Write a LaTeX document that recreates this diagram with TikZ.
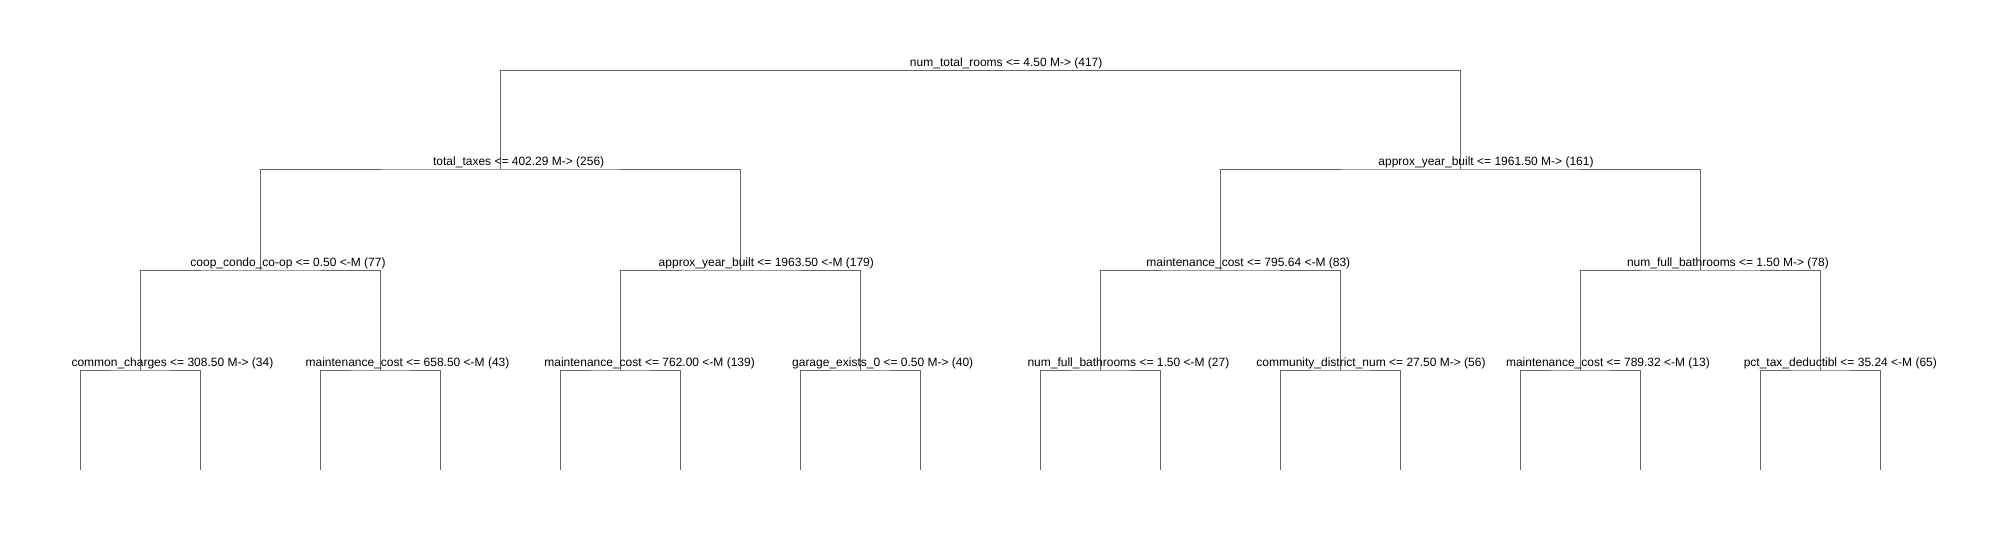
\documentclass[tikz,border=0pt]{standalone}
\usepackage{fontspec}
\setmainfont{Liberation Sans}

\begin{document}
\begin{tikzpicture}[x=0.5pt, y=-0.5pt,
  branch/.style={draw=black!60, line width=0.5pt},
  split label/.style={anchor=base, inner sep=0pt, font=\fontsize{6}{7}\selectfont}]

\useasboundingbox (0,0) rectangle (2006,540);

% Split points (numbered as in rpart) and the leaves
\foreach \i/\px/\py in {1/980.5/70.5, 2/500.5/169, 3/1460.5/169,
  4/260.5/270, 5/740.5/270, 6/1220.5/270, 7/1700.5/270,
  8/140.5/370, 9/380.5/370, 10/620.5/370, 11/860.5/370,
  12/1100.5/370, 13/1340.5/370, 14/1580.5/370, 15/1820.5/370} {
  \coordinate (n\i) at (\px,\py);
}
\foreach \i in {16,...,31} {
  \coordinate (n\i) at ({80.5+120*(\i-16)},470);
}

% Branches from each split down to its two children
\foreach \p in {1,...,15} {
  \pgfmathtruncatemacro{\lc}{2*\p}
  \pgfmathtruncatemacro{\rc}{2*\p+1}
  \draw [branch] (n\lc) |- (n\p) -| (n\rc);
}

% Split labels
\foreach \i/\px/\py/\lab in {
  1/1006.2/67/{num\_total\_rooms <= 4.50 M-> (417)},
  2/518.7/165.5/{total\_taxes <= 402.29 M-> (256)},
  3/1486/165.5/{approx\_year\_built <= 1961.50 M-> (161)},
  4/288/266.5/{coop\_condo\_co-op <= 0.50 <-M (77)},
  5/766.3/266.5/{approx\_year\_built <= 1963.50 <-M (179)},
  6/1248.3/266.5/{maintenance\_cost <= 795.64 <-M (83)},
  7/1727.9/266.5/{num\_full\_bathrooms <= 1.50 M-> (78)},
  8/172.4/366.5/{common\_charges <= 308.50 M-> (34)},
  9/407.5/366.5/{maintenance\_cost <= 658.50 <-M (43)},
  10/649.6/366.5/{maintenance\_cost <= 762.00 <-M (139)},
  11/882.7/366.5/{garage\_exists\_0 <= 0.50 M-> (40)},
  12/1128.4/366.5/{num\_full\_bathrooms <= 1.50 <-M (27)},
  13/1371/366.5/{community\_district\_num <= 27.50 M-> (56)},
  14/1607.9/366.5/{maintenance\_cost <= 789.32 <-M (13)},
  15/1840.3/366.5/{pct\_tax\_deductibl <= 35.24 <-M (65)}} {
  \node [split label] (l\i) at (\px,\py) {\lab};
}

\end{tikzpicture}
\end{document}
